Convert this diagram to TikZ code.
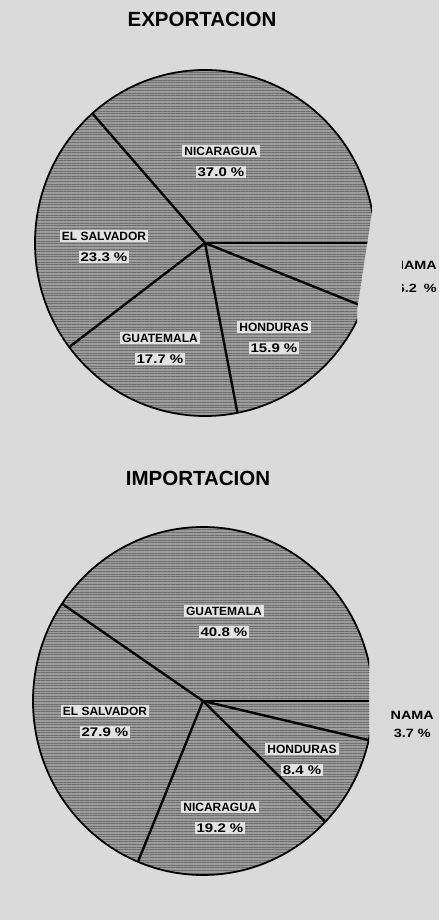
\documentclass[tikz,border=0pt]{standalone}
\usepackage{fontspec}
\setmainfont{Liberation Sans}
\newfontfamily\widesans[FakeStretch=1.2]{Liberation Sans}
\usetikzlibrary{patterns,patterns.meta}
\usetikzlibrary{positioning}
\definecolor{paper}{HTML}{DADADA}
\definecolor{piegray}{HTML}{9C9C9C}
\definecolor{stripe}{HTML}{6C6C6C}
\definecolor{tag}{HTML}{E2E2E2}
\tikzset{
  ttl/.style={font=\bfseries\fontsize{20.5}{20.5}\selectfont},
  lbl/.style={fill=tag,inner sep=2pt,font=\bfseries\fontsize{12}{12}\selectfont},
  pct/.style={fill=tag,inner sep=2pt,font=\widesans\bfseries\fontsize{12.5}{12.5}\selectfont},
  plbl/.style={inner sep=0pt,font=\widesans\bfseries\fontsize{12}{12}\selectfont},
  rim/.style={line width=1.8pt},
  cut/.style={line width=2.4pt},
  hatch/.style={preaction={fill=piegray},pattern={Lines[angle=0,distance=2.6pt,line width=1pt]},pattern color=stripe}
}

\begin{document}
\begin{tikzpicture}[x=1pt,y=1pt,node distance=21pt,on grid]
  \fill[paper] (0,0) rectangle (439,920);
  \useasboundingbox (0,0) rectangle (439,920);

  \node[ttl] (expt) at (202,901) {EXPORTACION};
  \begin{scope}
    \clip (0,460) -- (0,920) -- (380,920) -- (380,715) -- (373,715) -- (357,610) -- (357,460) -- cycle;
    \begin{scope}[shift={(205,677)}]
      \coordinate (ec) at (0,0);
      \coordinate (e1) at (131.5:170 and 173);
      \coordinate (e2) at (217:170 and 173);
      \coordinate (e3) at (281:170 and 173);
      \coordinate (e4) at (338.5:170 and 173);
      \coordinate (e5) at (0:170 and 173);
      \draw[rim,hatch] (ec) ellipse [x radius=170, y radius=173];
      \draw[cut] (ec) -- (e1);
      \draw[cut] (ec) -- (e2);
      \draw[cut] (ec) -- (e3);
      \draw[cut] (ec) -- (e4);
      \draw[cut] (ec) -- (e5);
    \end{scope}
  \end{scope}
  \node[lbl] (enic) at (221,769) {NICARAGUA};
  \node[pct] (enicp) [below=of enic] {37.0 \%};
  \node[lbl] (eslv) at (104,684) {EL SALVADOR};
  \node[pct] (eslvp) [below=of eslv] {23.3 \%};
  \node[lbl] (egua) at (160,582) {GUATEMALA};
  \node[pct] (eguap) [below=of egua] {17.7 \%};
  \node[lbl] (ehon) at (274,593) {HONDURAS};
  \node[pct] (ehonp) [below=of ehon] {15.9 \%};
  \begin{scope}
    \clip (402,600) rectangle (439,700);
    \node[plbl,anchor=east] (epan) at (437,655) {PANAMA};
    \node[plbl,anchor=east] (epanp) at (437,632) {6.2\hspace{3pt} \%};
  \end{scope}

  \node[ttl] (impt) at (198,442) {IMPORTACION};
  \begin{scope}
    \clip (0,0) rectangle (369,460);
    \begin{scope}[shift={(203,219)}]
      \coordinate (ic) at (0,0);
      \coordinate (i1) at (146:170 and 174);
      \coordinate (i2) at (247.5:170 and 174);
      \coordinate (i3) at (316:170 and 174);
      \coordinate (i4) at (347:170 and 174);
      \coordinate (i5) at (0:170 and 174);
      \draw[rim,hatch] (ic) ellipse [x radius=170, y radius=174];
      \draw[cut] (ic) -- (i1);
      \draw[cut] (ic) -- (i2);
      \draw[cut] (ic) -- (i3);
      \draw[cut] (ic) -- (i4);
      \draw[cut] (ic) -- (i5);
    \end{scope}
  \end{scope}
  \node[lbl] (igua) at (224,309) {GUATEMALA};
  \node[pct] (iguap) [below=of igua] {40.8 \%};
  \node[lbl] (islv) at (105,209) {EL SALVADOR};
  \node[pct] (islvp) [below=of islv] {27.9 \%};
  \node[lbl] (ihon) at (302,171) {HONDURAS};
  \node[pct] (ihonp) [below=of ihon] {8.4 \%};
  \node[lbl] (inic) at (220,113) {NICARAGUA};
  \node[pct] (inicp) [below=of inic] {19.2 \%};
  \begin{scope}
    \clip (390,150) rectangle (439,250);
    \node[plbl,anchor=east] (ipan) at (434,205) {PANAMA};
    \node[plbl,anchor=east] (ipanp) at (431,187) {3.7 \%};
  \end{scope}
\end{tikzpicture}
\end{document}
